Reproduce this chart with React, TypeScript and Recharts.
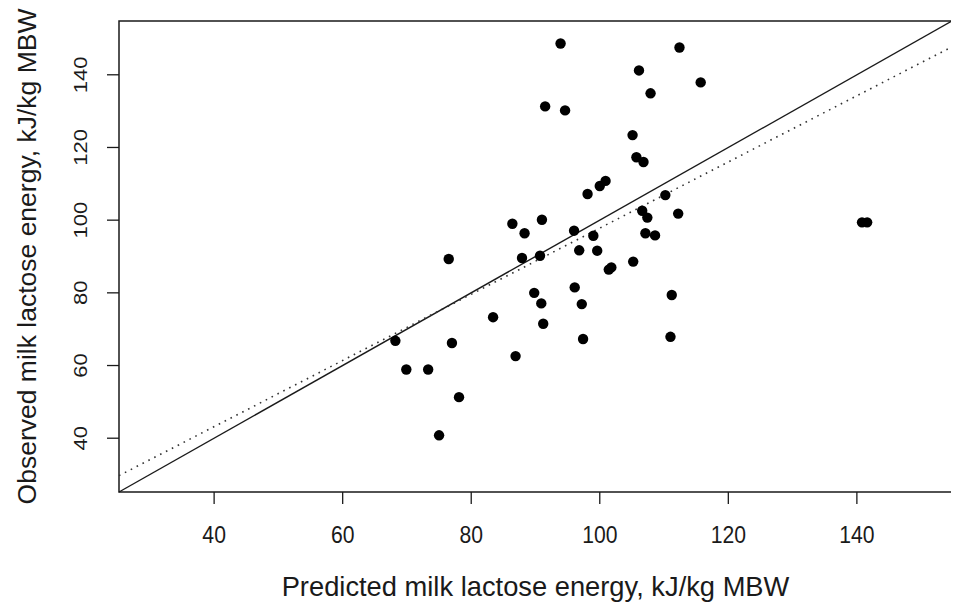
import React from "react";
import {
  ReferenceArea,
  ReferenceLine,
  Scatter,
  ScatterChart,
  XAxis,
  YAxis,
} from "recharts";

const predicted = [
  93.9, 112.4, 106.1, 115.7, 107.9, 91.5, 94.6, 105.1, 105.7, 106.8,
  98.1, 100.0, 100.9, 110.2, 106.6, 107.4, 112.2, 86.4, 91.0, 88.3,
  96.0, 99.0, 107.1, 108.6, 76.5, 87.9, 90.7, 96.8, 99.6, 105.2,
  101.4, 101.8, 96.1, 89.8, 111.2, 90.9, 97.2, 83.4, 91.2, 111.0,
  97.4, 68.2, 77.0, 86.9, 69.9, 73.3, 78.1, 75.0, 140.8, 141.6,
];
const observed = [
  148.6, 147.5, 141.2, 137.9, 134.9, 131.3, 130.2, 123.4, 117.3, 116.0,
  107.2, 109.4, 110.8, 106.9, 102.6, 100.7, 101.8, 99.0, 100.1, 96.4,
  97.1, 95.7, 96.4, 95.8, 89.3, 89.6, 90.2, 91.7, 91.6, 88.6,
  86.4, 87.0, 81.5, 80.0, 79.4, 77.1, 76.9, 73.3, 71.5, 67.9,
  67.3, 66.8, 66.2, 62.6, 58.9, 58.9, 51.3, 40.8, 99.4, 99.4,
];

const ticks = [40, 60, 80, 100, 120, 140];
// R's xlim/ylim c(30, 150) plus the 4% pad
const lim = [25.2, 154.8];
// fitted regression of observed on predicted (dotted line)
const fitIntercept = 6.76;
const fitSlope = 0.9105;

const data = predicted.map((x, i) => ({ x, y: observed[i] }));

const FONT = "'Liberation Sans', Arial, Helvetica, sans-serif";
const INK = "#1a1a1a";

// the source image is a little squeezed sideways, so the tick text is too
const XTick = (props: any) => {
  const { x, y, payload } = props;
  return (
    <text
      transform={`translate(${x} ${y}) scale(0.9 1)`}
      dy="0.71em"
      textAnchor="middle"
      fontSize={23.5}
      fontFamily={FONT}
      fill={INK}
    >
      {payload.value}
    </text>
  );
};

const YTick = (props: any) => {
  const { x, y, payload } = props;
  return (
    <text
      transform={`translate(${x} ${y}) rotate(-90) scale(1 0.85)`}
      textAnchor="middle"
      fontSize={22}
      fontFamily={FONT}
      fill={INK}
    >
      {payload.value}
    </text>
  );
};

const XTitle = (props: any) => {
  const { viewBox } = props;
  return (
    <text
      x={viewBox.x + viewBox.width / 2}
      y={viewBox.y + 104}
      textAnchor="middle"
      fontSize={27.3}
      fontFamily={FONT}
      fill={INK}
    >
      Predicted milk lactose energy, kJ/kg MBW
    </text>
  );
};

const YTitle = (props: any) => {
  const { viewBox } = props;
  const x = viewBox.x + 28;
  const y = viewBox.y + viewBox.height / 2;
  return (
    <text
      x={x}
      y={y}
      transform={`rotate(-90 ${x} ${y})`}
      textAnchor="middle"
      fontSize={26.5}
      fontFamily={FONT}
      fill={INK}
    >
      Observed milk lactose energy, kJ/kg MBW
    </text>
  );
};

const Dot = (props: any) => <circle cx={props.cx} cy={props.cy} r={5.2} fill="#000" />;

export default function App() {
  return (
    <ScatterChart
      width={950}
      height={600}
      margin={{ top: 13, right: 6, bottom: 0, left: 0 }}
      style={{ background: "#fff" }}
    >
      <XAxis
        type="number"
        dataKey="x"
        domain={lim}
        ticks={ticks}
        allowDataOverflow
        height={116}
        axisLine={false}
        tickSize={12}
        tickMargin={22}
        tickLine={{ stroke: INK, strokeWidth: 1.3 }}
        tick={<XTick />}
        label={<XTitle />}
      />
      <YAxis
        type="number"
        dataKey="y"
        domain={lim}
        ticks={ticks}
        allowDataOverflow
        width={111}
        axisLine={false}
        tickSize={12}
        tickMargin={20}
        tickLine={{ stroke: INK, strokeWidth: 1.3 }}
        tick={<YTick />}
        label={<YTitle />}
      />
      <ReferenceArea
        x1={lim[0]}
        x2={lim[1]}
        y1={lim[0]}
        y2={lim[1]}
        fill="none"
        fillOpacity={0}
        stroke={INK}
        strokeWidth={1.5}
      />
      <ReferenceLine
        segment={[
          { x: lim[0], y: lim[0] },
          { x: lim[1], y: lim[1] },
        ]}
        stroke={INK}
        strokeWidth={1.4}
      />
      <ReferenceLine
        segment={[
          { x: lim[0], y: fitIntercept + fitSlope * lim[0] },
          { x: lim[1], y: fitIntercept + fitSlope * lim[1] },
        ]}
        stroke="#333"
        strokeWidth={1.6}
        strokeDasharray="1.6 5"
      />
      <Scatter data={data} shape={<Dot />} isAnimationActive={false} />
    </ScatterChart>
  );
}
